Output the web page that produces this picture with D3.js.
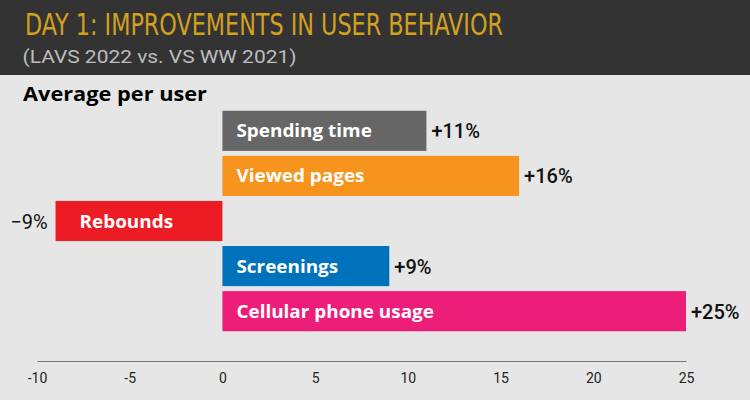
<!DOCTYPE html>
<html>
<head>
<meta charset="utf-8">
<script src="https://cdn.jsdelivr.net/npm/d3@7"></script>
<style>
  html, body { margin: 0; padding: 0; background: #e6e6e6; }
  svg { display: block; }
</style>
</head>
<body>
<svg id="chart" width="750" height="400"></svg>
<script>
const categories = ["Spending time", "Viewed pages", "Rebounds", "Screenings", "Cellular phone usage"];
const values = [11, 16, -9, 9, 25];
const valueLabels = ["+11%", "+16%", "\u22129%", "+9%", "+25%"];
const colors = ["#666666", "#f7941d", "#ed1c24", "#0072bc", "#ed1e79"];
const tickValues = [-10, -5, 0, 5, 10, 15, 20, 25];

const svg = d3.select("#chart");
const W = 750, H = 400;

svg.append("rect").attr("width", W).attr("height", H).attr("fill", "#e6e6e6");
svg.append("rect").attr("width", W).attr("height", 75).attr("fill", "#333333");

svg.append("text")
  .attr("x", 25).attr("y", 34.5)
  .attr("fill", "#d4a020")
  .attr("font-family", "'DejaVu Sans Condensed', 'DejaVu Sans', sans-serif")
  .attr("font-size", 31)
  .attr("textLength", 478)
  .attr("lengthAdjust", "spacingAndGlyphs")
  .text("DAY 1: IMPROVEMENTS IN USER BEHAVIOR");

svg.append("text")
  .attr("x", 22.5).attr("y", 63)
  .attr("fill", "#bdbdbd")
  .attr("font-family", "Roboto, 'Open Sans', sans-serif")
  .attr("font-size", 19)
  .attr("textLength", 274)
  .attr("lengthAdjust", "spacingAndGlyphs")
  .text("(LAVS 2022 vs. VS WW 2021)");

svg.append("text")
  .attr("x", 23).attr("y", 101)
  .attr("fill", "#000")
  .attr("font-family", "'Open Sans', Roboto, sans-serif")
  .attr("font-weight", 700)
  .attr("font-size", 19)
  .attr("textLength", 184)
  .attr("lengthAdjust", "spacingAndGlyphs")
  .text("Average per user");

const x = d3.scaleLinear().domain([-10, 25]).range([37, 686]);
const y = d3.scaleBand().domain(categories).range([108.5, 333.5]).paddingInner(0.11).paddingOuter(0.05);

const g = svg.append("g");
const rows = g.selectAll("g.row").data(categories.map((c, i) => ({c, v: values[i], lab: valueLabels[i], col: colors[i]})))
  .join("g").attr("class", "row");

rows.append("rect")
  .attr("x", d => x(Math.min(0, d.v)))
  .attr("width", d => Math.abs(x(d.v) - x(0)))
  .attr("y", d => y(d.c))
  .attr("height", y.bandwidth())
  .attr("fill", d => d.col);

rows.append("text")
  .attr("x", d => d.v < 0 ? x(d.v) + 24 : x(0) + 14)
  .attr("y", d => y(d.c) + y.bandwidth() / 2 + 6.5)
  .attr("fill", "#fff")
  .attr("font-family", "'Open Sans', Roboto, sans-serif")
  .attr("font-weight", 700)
  .attr("font-size", 18)
  .text(d => d.c)
  .each(function () {
    const len = this.getComputedTextLength();
    d3.select(this).attr("textLength", len * 1.05).attr("lengthAdjust", "spacingAndGlyphs");
  });

rows.append("text")
  .attr("x", d => d.v < 0 ? x(d.v) - 8 : x(d.v) + 5)
  .attr("text-anchor", d => d.v < 0 ? "end" : "start")
  .attr("y", d => y(d.c) + y.bandwidth() / 2 + 7.5)
  .attr("fill", "#111")
  .attr("font-family", "Roboto, 'Open Sans', sans-serif")
  .attr("font-weight", d => d.v < 0 ? 400 : 500)
  .attr("font-size", 20)
  .text(d => d.lab);

const axis = d3.axisBottom(x).tickValues(tickValues).tickSize(0).tickPadding(12).tickFormat(d3.format("d"));
const ax = svg.append("g").attr("transform", "translate(0,361)").call(axis);
ax.select(".domain").attr("stroke", "#777").attr("stroke-width", 1);
ax.selectAll("text")
  .attr("fill", "#222")
  .attr("font-family", "Roboto, 'Open Sans', sans-serif")
  .attr("font-size", 14)
  .text(d => d < 0 ? "-" + Math.abs(d) : d);
</script>
</body>
</html>
